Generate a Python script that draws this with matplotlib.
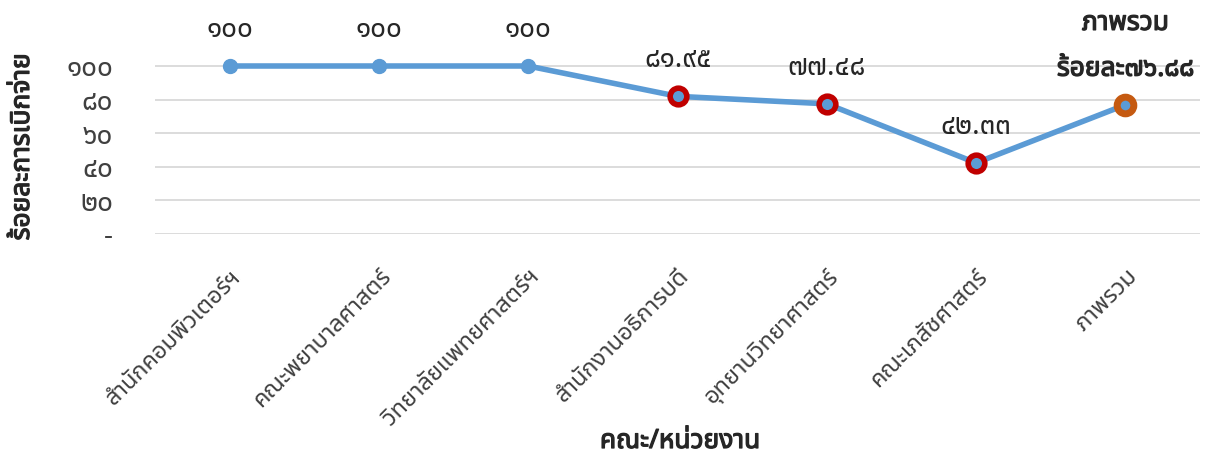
import matplotlib
matplotlib.use("Agg")
import matplotlib.pyplot as plt
import matplotlib.patheffects as pe
from matplotlib import font_manager
from matplotlib.ft2font import FT2Font

# ---- data ----
categories = ["สำนักคอมพิวเตอร์ฯ", "คณะพยาบาลศาสตร์", "วิทยาลัยแพทยศาสตร์ฯ",
              "สำนักงานอธิการบดี", "อุทยานวิทยาศาสตร์", "คณะเภสัชศาสตร์", "ภาพรวม"]
values = [100, 100, 100, 81.95, 77.48, 42.33, 76.88]
y_ticks = [0, 20, 40, 60, 80, 100]
x_title = "คณะ/หน่วยงาน"
y_title = "ร้อยละการเบิกจ่าย"
overall_title = "ภาพรวม"
overall_prefix = "ร้อยละ"


def thai_fonts():
    preferred = ["Tahoma", "Leelawadee UI", "Noto Sans Thai", "Noto Sans Thai UI",
                 "Noto Serif Thai", "Sarabun", "Loma", "Garuda", "Kinnari", "Norasi",
                 "Tlwg Typo", "Waree", "Umpush", "Laksaman"]
    found = {}
    for f in font_manager.fontManager.ttflist:
        try:
            cmap = FT2Font(f.fname).get_charmap()
        except Exception:
            continue
        if ord("ก") in cmap and ord("๑") in cmap:
            found.setdefault(f.name, set()).add(f.weight)
    name = next((p for p in preferred if p in found), None)
    if name is None:
        name = next(iter(found), "DejaVu Sans")
    weights = found.get(name, set())
    has_bold = any((w if isinstance(w, int) else 400) >= 600 or w == "bold" for w in weights)
    return name, has_bold


thai, thai_has_bold = thai_fonts()
plt.rcParams["font.family"] = [thai, "DejaVu Sans"]

THAI_DIGITS = str.maketrans("0123456789", "๐๑๒๓๔๕๖๗๘๙")


def to_thai(v):
    s = f"{v:g}" if float(v).is_integer() else f"{v:.2f}"
    return s.translate(THAI_DIGITS)


def bold_kw(color):
    if thai_has_bold:
        return {"fontweight": "bold"}
    return {"path_effects": [pe.withStroke(linewidth=0.9, foreground=color)]}


BLUE = "#5B9BD5"
RED = "#C00000"
ORANGE = "#C55A11"
GRID = "#D9D9D9"
DARK = "#262626"
TICK = "#404040"

fig = plt.figure(figsize=(12.05, 4.57), dpi=100)
ax = fig.add_axes([155 / 1205, (457 - 234) / 457, (1200 - 155) / 1205, 201.6 / 457])

x = list(range(len(categories)))
ax.plot(x, values, color=BLUE, lw=4.0, solid_capstyle="round", zorder=2)

# plain markers for the first three units
ax.plot(x[:3], values[:3], ls="none", marker="o", ms=10, color=BLUE, zorder=3)
# highlighted units below 100%
ax.plot(x[3:6], values[3:6], ls="none", marker="o", ms=12, mfc=BLUE, mec=RED, mew=4, zorder=3)
# overall
ax.plot(x[6:], values[6:], ls="none", marker="o", ms=12, mfc=BLUE, mec=ORANGE, mew=5, zorder=3)

for xi, v in zip(x[:6], values[:6]):
    ax.annotate(to_thai(v), (xi, v), xytext=(0, 26), textcoords="offset points",
                ha="center", va="center", fontsize=20, color=DARK)

ax.annotate(overall_title, (x[6], values[6]), xytext=(0, 59), textcoords="offset points",
            ha="center", va="center", fontsize=19, color=DARK,
            annotation_clip=False, **bold_kw(DARK))
ax.annotate(overall_prefix + to_thai(values[6]), (x[6], values[6]), xytext=(0, 26),
            textcoords="offset points", ha="center", va="center", fontsize=19,
            color=DARK, annotation_clip=False, **bold_kw(DARK))

ax.set_xlim(-0.5, len(categories) - 0.5)
ax.set_ylim(0, 120)
ax.set_yticks(y_ticks)
ax.set_yticklabels(["-" if t == 0 else to_thai(t) for t in y_ticks], fontsize=20, color=TICK)
ax.yaxis.grid(True, color=GRID, lw=1.3)
ax.set_axisbelow(True)
for s in ax.spines.values():
    s.set_visible(False)
ax.tick_params(axis="both", length=0)
ax.tick_params(axis="y", pad=30)

ax.set_xticks(x)
ax.set_xticklabels(categories, rotation=45, ha="right", rotation_mode="anchor",
                   fontsize=17, color=TICK)
ax.tick_params(axis="x", pad=22)

fig.text(680 / 1205, 1 - 441 / 457, x_title, ha="center", va="center",
         fontsize=19, color=DARK, **bold_kw(DARK))
fig.text(22 / 1205, 1 - 147 / 457, y_title, ha="center", va="center", rotation=90,
         fontsize=19, color=DARK, **bold_kw(DARK))

fig.savefig("out.png", dpi=100)
